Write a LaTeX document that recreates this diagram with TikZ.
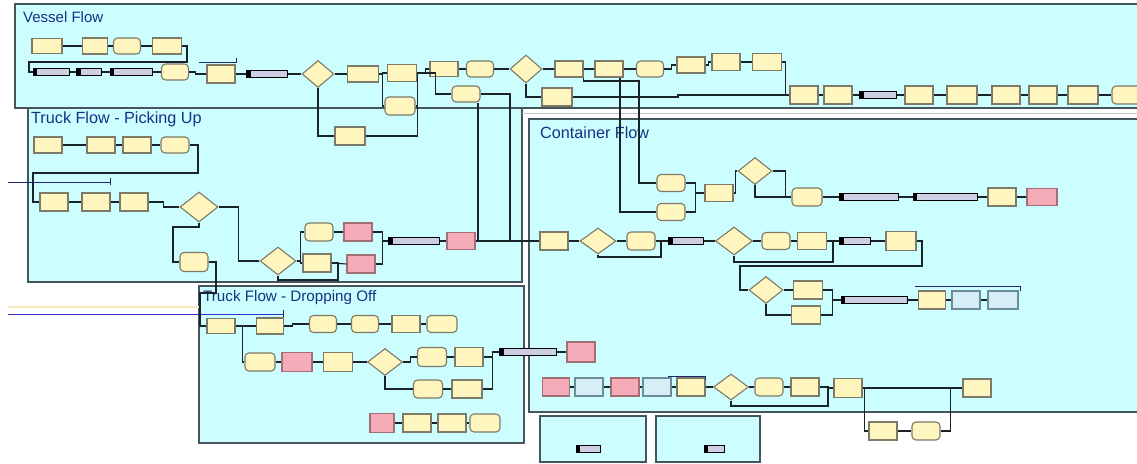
\documentclass[tikz,border=0pt]{standalone}
\usepackage{fontspec}
\setmainfont{Liberation Sans}
\usetikzlibrary{shapes.geometric}
\definecolor{panel}{RGB}{204,253,255}
\definecolor{pborder}{RGB}{70,84,92}
\definecolor{ttl}{RGB}{22,50,130}
\definecolor{yfill}{RGB}{255,245,190}
\definecolor{mline}{RGB}{125,122,104}
\definecolor{pfill}{RGB}{246,172,184}
\definecolor{pline}{RGB}{165,110,118}
\definecolor{bfill}{RGB}{214,238,246}
\definecolor{bline}{RGB}{110,140,150}
\definecolor{sfill}{RGB}{205,208,228}
\definecolor{conn}{RGB}{25,35,40}
\definecolor{navy}{RGB}{30,40,110}
\definecolor{blu}{RGB}{50,50,200}
\definecolor{faint}{RGB}{248,236,190}
\definecolor{gapline}{RGB}{190,200,205}
\begin{document}
\begin{tikzpicture}[x=1pt,y=-1pt,
  panelbox/.style={draw=pborder,fill=panel,line width=1.6pt},
  ptitle/.style={anchor=base west,text=ttl,font=\fontsize{16.2}{16}\selectfont,inner sep=0pt},
  mod/.style={rectangle,draw=mline,fill=yfill,line width=1.1pt,minimum width=28pt,minimum height=17pt,inner sep=0pt},
  pmod/.style={mod,rounded corners=4pt},
  pinkmod/.style={mod,fill=pfill,draw=pline},
  bluemod/.style={mod,fill=bfill,draw=bline},
  dmod/.style={diamond,draw=mline,fill=yfill,line width=1.1pt,minimum width=35pt,minimum height=28pt,inner sep=0pt},
  stat/.style={rectangle,draw=black,fill=sfill,line width=1pt,minimum height=6.5pt,inner sep=0pt,
    path picture={\fill[black] (path picture bounding box.south west) rectangle ([xshift=4pt]path picture bounding box.north west);}},
  link/.style={draw=conn,line width=1.1pt},
  tickline/.style={draw=navy,line width=1pt},
]
\useasboundingbox (0,0) rectangle (1137,463);
\clip (0,0) rectangle (1137,463);
\fill[white] (0,0) rectangle (1137,463);

% panels
\draw[panelbox] (15,4) rectangle (1145,108);
\draw[panelbox] (28,108) rectangle (522,282);
\draw[gapline,line width=0.8pt] (522,113) -- (1137,113);
\draw[panelbox] (529,119) rectangle (1145,412);
\draw[panelbox] (199,286) rectangle (524,443);
\draw[panelbox] (540,416) rectangle (646,462);
\draw[panelbox] (656,416) rectangle (760,462);

\node[ptitle,font=\fontsize{15}{15}\selectfont] (tV) at (23,22) {Vessel Flow};
\node[ptitle] (tP) at (31,123) {Truck Flow - Picking Up};
\node[ptitle] (tC) at (540,138) {Container Flow};
\node[ptitle,font=\fontsize{15.2}{15}\selectfont] (tD) at (203,301) {Truck Flow - Dropping Off};

% ---------------- Vessel Flow ----------------
\node[mod,minimum width=30pt,minimum height=15pt] (V1) at (47,46) {};
\node[mod,minimum width=25pt,minimum height=16pt] (V2) at (95,46) {};
\node[pmod,minimum width=27pt,minimum height=16pt] (V3) at (127,46) {};
\node[mod,minimum width=29pt,minimum height=16pt] (V4) at (167,46) {};
\node[stat,minimum width=36pt] (S1) at (51,72) {};
\node[stat,minimum width=25pt] (S2) at (89,72) {};
\node[stat,minimum width=42pt] (S3) at (131,72) {};
\node[pmod,minimum width=27pt,minimum height=16pt] (P1) at (175,72) {};
\node[mod,minimum height=18pt] (P2) at (221,74) {};
\node[stat,minimum width=41pt] (S4) at (267,74) {};
\node[dmod,minimum width=32pt,minimum height=27pt] (D1) at (318,74) {};
\node[mod,minimum width=31pt,minimum height=16pt] (A1) at (363,74) {};
\node[mod,minimum width=29pt] (A2) at (402,73) {};
\node[mod,minimum height=15pt] (A3) at (444,69) {};
\node[pmod,minimum width=27pt,minimum height=16pt] (A4) at (480,69) {};
\node[dmod,minimum width=32pt,minimum height=28pt] (D2) at (526,69) {};
\node[mod,minimum height=16pt] (A5) at (569,69) {};
\node[mod,minimum height=16pt] (A6) at (609,69) {};
\node[pmod,minimum width=27pt,minimum height=16pt] (A7) at (650,69) {};
\node[mod,minimum height=16pt] (A8) at (691,65) {};
\node[mod] (A9) at (726,62) {};
\node[mod,minimum width=29pt] (A10) at (767,62) {};
\node[mod,minimum width=30pt,minimum height=18pt] (A12) at (557,97) {};
\node[pmod,minimum height=16pt] (A13) at (466,94) {};
\node[mod,minimum width=30pt,minimum height=18pt] (A14) at (350,136) {};
\node[pmod,minimum width=30pt,minimum height=18pt] (A15) at (400,106) {};
\node[mod,minimum height=18pt] (B1) at (804,95) {};
\node[mod,minimum height=18pt] (B2) at (838,95) {};
\node[stat,minimum width=37pt] (S5) at (878,95) {};
\node[mod,minimum height=18pt] (B3) at (919,95) {};
\node[mod,minimum width=30pt,minimum height=18pt] (B4) at (962,95) {};
\node[mod,minimum height=18pt] (B5) at (1006,95) {};
\node[mod,minimum height=18pt] (B6) at (1043,95) {};
\node[mod,minimum width=30pt,minimum height=18pt] (B7) at (1083,95) {};
\node[pmod,minimum width=30pt,minimum height=18pt] (B8) at (1127,95) {};

\draw[tickline] (199,62) -- (236,62) -- (236,58);

\draw[link] (V1.east) -- (V2.west);
\draw[link] (V2.east) -- (V3.west);
\draw[link] (V3.east) -- (V4.west);
\coordinate (v4a) at (187,62); \coordinate (v4b) at (29,62);
\draw[link] (V4.east) -| (v4a) -- (v4b) |- (S1.west);
\draw[link] (S1.east) -- (S2.west);
\draw[link] (S2.east) -- (S3.west);
\draw[link] (S3.east) -- (P1.west);
\draw[link] (P1.east) -- ++(6,0) |- (P2.west);
\draw[link] (P2.east) -- (S4.west);
\draw[link] (S4.east) -- (D1.west);
\draw[link] (D1.east) -- (A1.west);
\draw[link] (A1.east) -- ++(3,0) |- (A2.west);
\draw[link] (A1.east) -- ++(3,0) |- (A15.west);
\draw[link] (A2.east) -- ++(8,0) |- (A3.west);
\draw[link] (A2.east) -- ++(18,0) |- (A13.west);
\draw[link] (D1.south) |- (A14.west);
\draw[link] (A14.east) -| (A2.east);
\draw[link] (A15.east) -| (A2.east);
\draw[link] (A3.east) -- (A4.west);
\draw[link] (A4.east) -- (D2.west);
\draw[link] (D2.east) -- (A5.west);
\draw[link] (A5.east) -- (A6.west);
\draw[link] (A6.east) -- (A7.west);
\draw[link] (A7.east) -- ++(7,0) |- (A8.west);
\draw[link] (A8.east) -- ++(3,0) |- (A9.west);
\draw[link] (A9.east) -- (A10.west);
\draw[link] (A10.east) -- ++(3,0) |- (B1.west);
\draw[link] (D2.south) |- (A12.west);
\coordinate (a12a) at (678,97);
\draw[link] (A12.east) -- (a12a) |- (B1.west);
\draw[link] (B1.east) -- (B2.west);
\draw[link] (B2.east) -- (S5.west);
\draw[link] (S5.east) -- (B3.west);
\draw[link] (B3.east) -- (B4.west);
\draw[link] (B4.east) -- (B5.west);
\draw[link] (B5.east) -- (B6.west);
\draw[link] (B6.east) -- (B7.west);
\draw[link] (B7.east) -- (B8.west);

% ---------------- Truck Flow - Picking Up ----------------
\node[mod,minimum height=16pt] (T1) at (48,145) {};
\node[mod,minimum height=16pt] (T2) at (101,145) {};
\node[mod,minimum height=16pt] (T3) at (137,145) {};
\node[pmod,minimum height=16pt] (T4) at (175,145) {};
\node[mod,minimum height=18pt] (T5) at (54,202) {};
\node[mod,minimum height=18pt] (T6) at (96,202) {};
\node[mod,minimum height=18pt] (T7) at (134,202) {};
\node[dmod,minimum width=38pt,minimum height=30pt] (D8) at (199,207) {};
\node[pmod,minimum height=19pt] (T8) at (194,262) {};
\node[dmod,minimum width=36pt,minimum height=28pt] (D9) at (278,261) {};
\node[pmod,minimum height=18pt] (T9) at (319,232) {};
\node[mod,minimum height=18pt] (T10) at (317,263) {};
\node[pinkmod,minimum height=18pt] (T11) at (358,232) {};
\node[pinkmod,minimum height=18pt] (T12) at (361,264) {};
\node[stat,minimum width=51pt] (S11) at (414,241) {};
\node[pinkmod] (P8) at (461,241) {};

\draw[link] (T1.east) -- (T2.west);
\draw[link] (T2.east) -- (T3.west);
\draw[link] (T3.east) -- (T4.west);
\coordinate (t4a) at (198,173); \coordinate (t4b) at (33,173);
\draw[link] (T4.east) -| (t4a) -- (t4b) |- (T5.west);
\draw[link] (T5.east) -- (T6.west);
\draw[link] (T6.east) -- (T7.west);
\draw[link] (T7.east) -- ++(15,0) |- (D8.west);
\coordinate (d8a) at (173,227);
\draw[link] (D8.south) |- (d8a) |- (T8.west);
\draw[link] (D8.east) -- ++(20,0) |- (D9.west);
\draw[link] (D9.east) -- ++(4,0) |- (T9.west);
\draw[link] (D9.east) -- ++(4,0) |- (T10.west);
\coordinate (d9a) at (338,280);
\draw[link] (D9.south) |- (d9a) |- (T10.east);
\draw[link] (T9.east) -- (T11.west);
\draw[link] (T10.east) -- (T12.west);
\draw[link] (T11.east) -- ++(10,0) |- (S11.west);
\draw[link] (T12.east) -- ++(7,0) |- (S11.west);
\draw[link] (S11.east) -- (P8.west);

% left lines
\draw[navy,line width=1pt] (8,182) -- (110,182);
\draw[navy,line width=1pt] (110,178) -- (110,185);
\draw[faint,line width=1.2pt] (8,307) -- (200,307);
\draw[blu,line width=1pt] (8,314) -- (283,314);
\draw[navy,line width=1pt] (283,310) -- (283,318);

% ---------------- Truck Flow - Dropping Off ----------------
\node[mod,minimum height=15pt] (F1) at (221,326) {};
\node[mod,minimum width=27pt,minimum height=16pt] (F2) at (270,326) {};
\node[pmod,minimum width=27pt,minimum height=17pt] (F3) at (323,324) {};
\node[pmod,minimum width=27pt,minimum height=17pt] (F4) at (365,324) {};
\node[mod,minimum height=17pt] (F5) at (406,324) {};
\node[pmod,minimum width=30pt,minimum height=17pt] (F6) at (442,324) {};
\node[pmod,minimum width=30pt,minimum height=18pt] (F7) at (260,362) {};
\node[pinkmod,minimum width=30pt,minimum height=19pt] (F8) at (297,362) {};
\node[mod,minimum width=29pt,minimum height=19pt] (F9) at (338,362) {};
\node[dmod,minimum width=35pt,minimum height=27pt] (D10) at (385,362) {};
\node[pmod,minimum width=29pt,minimum height=19pt] (F10) at (432,357) {};
\node[mod,minimum height=19pt] (F11) at (469,357) {};
\node[pmod,minimum width=29pt,minimum height=18pt] (F12) at (428,389) {};
\node[mod,minimum width=30pt,minimum height=18pt] (F13) at (467,389) {};
\node[pinkmod,minimum width=24pt,minimum height=19pt] (F14) at (382,423) {};
\node[mod,minimum height=18pt] (F15) at (417,423) {};
\node[mod,minimum height=18pt] (F16) at (452,423) {};
\node[pmod,minimum width=30pt,minimum height=18pt] (F17) at (485,423) {};
\node[stat,minimum width=57pt] (S12) at (528,352) {};

\coordinate (t8a) at (216,293); \coordinate (t8b) at (200,293);
\draw[link] (T8.east) -| (t8a) -- (t8b) |- (F1.west);
\draw[link] (F1.east) -- (F2.west);
\draw[link] (F2.east) -- ++(8,0) |- (F3.west);
\draw[link] (F3.east) -- (F4.west);
\draw[link] (F4.east) -- (F5.west);
\draw[link] (F5.east) -- (F6.west);
\draw[link] (F1.east) -- ++(7,0) |- (F7.west);
\draw[link] (F7.east) -- (F8.west);
\draw[link] (F8.east) -- (F9.west);
\draw[link] (F9.east) -- (D10.west);
\draw[link] (D10.east) -- ++(7,0) |- (F10.west);
\draw[link] (F10.east) -- (F11.west);
\draw[link] (D10.south) |- (F12.west);
\draw[link] (F12.east) -- (F13.west);
\draw[link] (F11.east) -- ++(9,0) |- (S12.west);
\draw[link] (F13.east) -- ++(10,0) |- (S12.west);
\draw[link] (F14.east) -- (F15.west);
\draw[link] (F15.east) -- (F16.west);
\draw[link] (F16.east) -- (F17.west);

% ---------------- Container Flow ----------------
\node[pmod] (C1) at (671,183) {};
\node[pmod] (C2) at (671,212) {};
\node[mod] (C3) at (719,193) {};
\node[dmod,minimum width=34pt,minimum height=27pt] (D3) at (755,171) {};
\node[pmod,minimum width=30pt,minimum height=18pt] (C4) at (807,197) {};
\node[stat,minimum width=59pt] (S6) at (869,197) {};
\node[stat,minimum width=64pt] (S7) at (945,197) {};
\node[mod,minimum height=18pt] (C5) at (1002,197) {};
\node[pinkmod,minimum width=30pt] (C6) at (1042,197) {};
\node[mod,minimum height=18pt] (C7) at (554,241) {};
\node[dmod,minimum width=36pt,minimum height=26pt] (D4) at (598,241) {};
\node[pmod,minimum height=18pt] (C8) at (641,241) {};
\node[stat,minimum width=35pt] (S8) at (686,241) {};
\node[dmod,minimum width=37pt,minimum height=28pt] (D5) at (734,241) {};
\node[pmod] (C9) at (776,241) {};
\node[mod,minimum width=29pt] (C10) at (812,241) {};
\node[stat,minimum width=31pt] (S9) at (855,241) {};
\node[mod,minimum width=30pt,minimum height=19pt] (C11) at (901,241) {};
\node[dmod,minimum width=34pt,minimum height=27pt] (D6) at (766,290) {};
\node[mod,minimum width=29pt,minimum height=18pt] (C12) at (808,290) {};
\node[mod,minimum width=29pt,minimum height=18pt] (C13) at (806,315) {};
\node[stat,minimum width=66pt] (S10) at (874,300) {};
\node[mod,minimum width=27pt,minimum height=18pt] (C14) at (932,300) {};
\node[bluemod,minimum height=18pt] (C15) at (966,300) {};
\node[bluemod,minimum width=30pt,minimum height=18pt] (C16) at (1003,300) {};
\node[pinkmod,minimum height=20pt] (G1) at (581,352) {};
\node[pinkmod,minimum width=27pt,minimum height=18pt] (E1) at (556,387) {};
\node[bluemod,minimum height=18pt] (E2) at (589,387) {};
\node[pinkmod,minimum height=18pt] (E3) at (625,387) {};
\node[bluemod,minimum height=18pt] (E4) at (657,387) {};
\node[mod,minimum height=18pt] (E5) at (691,387) {};
\node[dmod,minimum width=35pt,minimum height=26pt] (D7) at (731,387) {};
\node[pmod,minimum height=18pt] (E6) at (769,387) {};
\node[mod,minimum height=18pt] (E7) at (805,387) {};
\node[mod,minimum height=19pt] (E8) at (848,388) {};
\node[mod,minimum height=18pt] (E9) at (977,388) {};
\node[mod,minimum height=18pt] (E10) at (883,431) {};
\node[pmod,minimum height=18pt] (E11) at (926,431) {};

\draw[tickline] (915,286) -- (1020,286) -- (1020,291);
\draw[tickline] (668,376) -- (705,376) -- (705,380);

\coordinate (j1) at (510,241); \coordinate (j2) at (478,241);
\draw[link] (A13.east) -| (j1);
\draw[link] ([xshift=12pt]A13.south) -- (j2);
\coordinate (a5a) at (639,81);
\draw[link] (A5.south east) |- (a5a) |- (C1.west);
\draw[link] ([xshift=11pt]A6.south) |- (C2.west);
\draw[link] (P8.east) -- (C7.west);

\draw[link] (C1.east) -- ++(10,0) |- (C3.west);
\draw[link] (C2.east) -- ++(10,0) |- (C3.west);
\draw[link] (C3.east) -- ++(2,0) |- (D3.west);
\draw[link] (D3.east) -- ++(13,0) |- (C4.west);
\draw[link] (D3.south) |- (C4.west);
\draw[link] (C4.east) -- (S6.west);
\draw[link] (S6.east) -- (S7.west);
\draw[link] (S7.east) -- (C5.west);
\draw[link] (C5.east) -- (C6.west);
\draw[link] (C7.east) -- (D4.west);
\draw[link] (D4.east) -- (C8.west);
\draw[link] (C8.east) -- (S8.west);
\draw[link] (S8.east) -- (D5.west);
\draw[link] (D5.east) -- (C9.west);
\draw[link] (C9.east) -- (C10.west);
\draw[link] (C10.east) -- (S9.west);
\draw[link] (S9.east) -- (C11.west);
\coordinate (d4a) at (661,257);
\draw[link] (D4.south) |- (d4a) |- (C8.east);
\coordinate (d5a) at (833,262);
\draw[link] (D5.south) |- (d5a) |- (C10.east);
\coordinate (c11a) at (922,266); \coordinate (c11b) at (740,266);
\draw[link] (C11.east) -| (c11a) -- (c11b) |- (D6.west);
\draw[link] (D6.east) -- (C12.west);
\draw[link] (D6.south) |- (C13.west);
\draw[link] (C12.east) -- ++(9,0) |- (S10.west);
\draw[link] (C13.east) -- ++(11,0) |- (S10.west);
\draw[link] (S10.east) -- (C14.west);
\draw[link] (C14.east) -- (C15.west);
\draw[link] (C15.east) -- (C16.west);
\draw[link] (S12.east) -- (G1.west);
\draw[link] (E1.east) -- (E2.west);
\draw[link] (E2.east) -- (E3.west);
\draw[link] (E3.east) -- (E4.west);
\draw[link] (E4.east) -- (E5.west);
\draw[link] (E5.east) -- (D7.west);
\draw[link] (D7.east) -- (E6.west);
\draw[link] (E6.east) -- (E7.west);
\draw[link] (E7.east) -- ++(9,0) |- (E8.west);
\coordinate (d7a) at (828,406);
\draw[link] (D7.south) |- (d7a) |- (E7.east);
\draw[link] (E8.east) -- (E9.west);
\draw[link] (E8.east) -- ++(2,0) |- (E10.west);
\draw[link] (E10.east) -- (E11.west);
\draw[link] (E11.east) -- ++(10,0) |- (E9.west);

% small panels
\node[stat,minimum width=24pt] (SA) at (588,449) {};
\node[stat,minimum width=20pt] (SB) at (714,449) {};
\end{tikzpicture}
\end{document}
